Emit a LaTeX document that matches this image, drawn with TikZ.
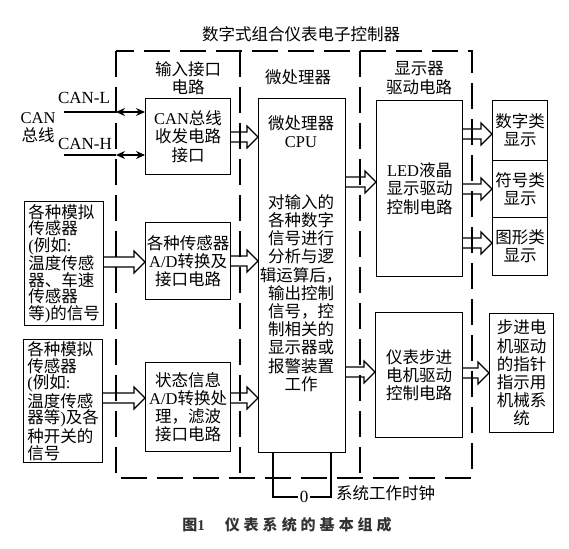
\documentclass[tikz,border=0pt]{standalone}
\usepackage{fontspec}
\setmainfont{Noto Sans CJK SC}
\newfontfamily\lat{Liberation Serif}
\usetikzlibrary{arrows.meta,calc}
\newcommand\bx{\fontsize{16.5}{18.2}\selectfont}
\newcommand\sx{\fontsize{16.5}{16.6}\selectfont}
\newcommand\lx{\lat\fontsize{17}{18}\selectfont}
\newcommand\cx{\fontsize{15}{16}\selectfont\bfseries}
\newcommand\harrow[2]{\draw[harr] let \p1=(#1), \p2=(#2) in
  (\x1,{\y1+5pt}) -- ({\x2-11pt},{\y1+5pt}) -- ({\x2-11pt},{\y1+11pt}) --
  (\x2,\y1) -- ({\x2-11pt},{\y1-11pt}) -- ({\x2-11pt},{\y1-5pt}) -- (\x1,{\y1-5pt});}
\begin{document}
\begin{tikzpicture}[x=1pt,y=-1pt,
  box/.style={draw, line width=1.1pt, inner sep=0pt, align=center, font=\bx, anchor=north west},
  txt/.style={inner sep=0pt, align=center, font=\bx},
  dsh/.style={line width=1.4pt, dash pattern=on 26pt off 10pt},
  harr/.style={line width=1.1pt, line join=miter},
  dbl/.style={line width=1.1pt, {Stealth[length=9pt,width=8pt]}-{Stealth[length=9pt,width=8pt]}},
  ln/.style={line width=1.1pt}]
\useasboundingbox (0,0) rectangle (569,548);

% dashed frames
\draw[dsh] (116,51) rectangle (472,478);
\draw[dsh] (240,51) -- (240,478);
\draw[dsh] (360,51) -- (360,478);

% headers
\node[txt] (title) at (301,34) {数字式组合仪表电子控制器};
\node[txt] (hin) at (188,78) {输入接口\\电路};
\node[txt] (hcpu) at (298,77) {微处理器};
\node[txt] (hdisp) at (419,78) {显示器\\驱动电路};

% input column
\node[box, minimum width=85pt, minimum height=76pt] (can) at (145,98) {{\lat CAN}总线\\收发电路\\接口};
\node[box, minimum width=85pt, minimum height=77pt] (ad1) at (145,222) {各种传感器\\{\lat A/D}转换及\\接口电路};
\node[box, minimum width=85pt, minimum height=89pt] (ad2) at (145,362) {状态信息\\{\lat A/D}转换处\\理，滤波\\接口电路};

% sensors
\node[box, minimum width=79pt, minimum height=124pt, align=left, font=\sx] (s1) at (24,201)
  {各种模拟\\传感器\\{\lat(}例如{\lat:}\\温度传感\\器、车速\\传感器\\等{\lat)}的信号};
\node[box, minimum width=79pt, minimum height=123pt, align=left, font=\sx] (s2) at (23,339)
  {各种模拟\\传感器\\{\lat(}例如{\lat:}\\温度传感\\器等{\lat)}及各\\种开关的\\信号};

% CPU
\node[box, minimum width=87pt, minimum height=354pt] (cpu) at (258,98) {};
\node[txt] (cput) at (301,132) {微处理器\\{\lat CPU}};
\node[txt] (cpub) at (301,293) {对输入的\\各种数字\\信号进行\\分析与逻\\辑运算后，\\输出控制\\信号，控\\制相关的\\显示器或\\报警装置\\工作};

% display drivers
\node[box, minimum width=86pt, minimum height=176pt] (led) at (376,100) {{\lat LED}液晶\\显示驱动\\控制电路};
\node[box, minimum width=87pt, minimum height=125pt] (step) at (375,312) {仪表步进\\电机驱动\\控制电路};

% outputs
\node[box, minimum width=55pt, minimum height=60pt] (d1) at (492,100) {数字类\\显示};
\node[box, minimum width=55pt, minimum height=57pt] (d2) at (492,160) {符号类\\显示};
\node[box, minimum width=55pt, minimum height=58pt] (d3) at (492,217) {图形类\\显示};
\node[box, minimum width=64pt, minimum height=119pt] (mech) at (489,313) {步进电\\机驱动\\的指针\\指示用\\机械系\\统};

% CAN bus
\node[txt, font=\lx] (canl) at (84,98) {CAN-L};
\node[txt, font=\lx] (canh) at (85,144) {CAN-H};
\node[txt] (canbus) at (38,128) {{\lat CAN}\\总线};
\coordinate (lA) at (64,112);
\coordinate (lB) at (116,112);
\coordinate (hA) at (64,155);
\coordinate (hB) at (116,155);
\draw[ln] (lA) -- (lB);
\draw[dbl] (lB) -- (can.west |- lB);
\draw[ln] (hA) -- (hB);
\draw[dbl] (hB) -- (can.west |- hB);

% hollow arrows
\harrow{can.east |- 0,137}{cpu.west |- 0,137}
\harrow{ad1.east |- 0,261}{cpu.west |- 0,261}
\harrow{ad2.east |- 0,398}{cpu.west |- 0,398}
\harrow{s1.east |- 0,262}{ad1.west |- 0,262}
\harrow{s2.east |- 0,398}{ad2.west |- 0,398}
\harrow{cpu.east |- 0,182}{led.west |- 0,182}
\harrow{cpu.east |- 0,372}{step.west |- 0,372}
\harrow{led.east |- 0,134}{d1.west |- 0,134}
\harrow{led.east |- 0,189}{d2.west |- 0,189}
\harrow{led.east |- 0,243}{d3.west |- 0,243}
\harrow{step.east |- 0,373}{mech.west |- 0,373}

% clock
\node[txt, font=\lx, inner sep=2pt] (zero) at (304,497) {0};
\draw[ln] (cpu.south -| 273,0) |- (zero.west);
\draw[ln] (cpu.south -| 331,0) |- (zero.east);
\node[txt, anchor=west] (clk) at (336,493) {系统工作时钟};

% caption
\node[txt, font=\cx, text=black!80] (cap) at (287,525)
  {图{\lat\bfseries 1}\hspace{20pt}仪\kern4pt 表\kern4pt 系\kern4pt 统\kern4pt 的\kern4pt 基\kern4pt 本\kern4pt 组\kern4pt 成};
\end{tikzpicture}
\end{document}
